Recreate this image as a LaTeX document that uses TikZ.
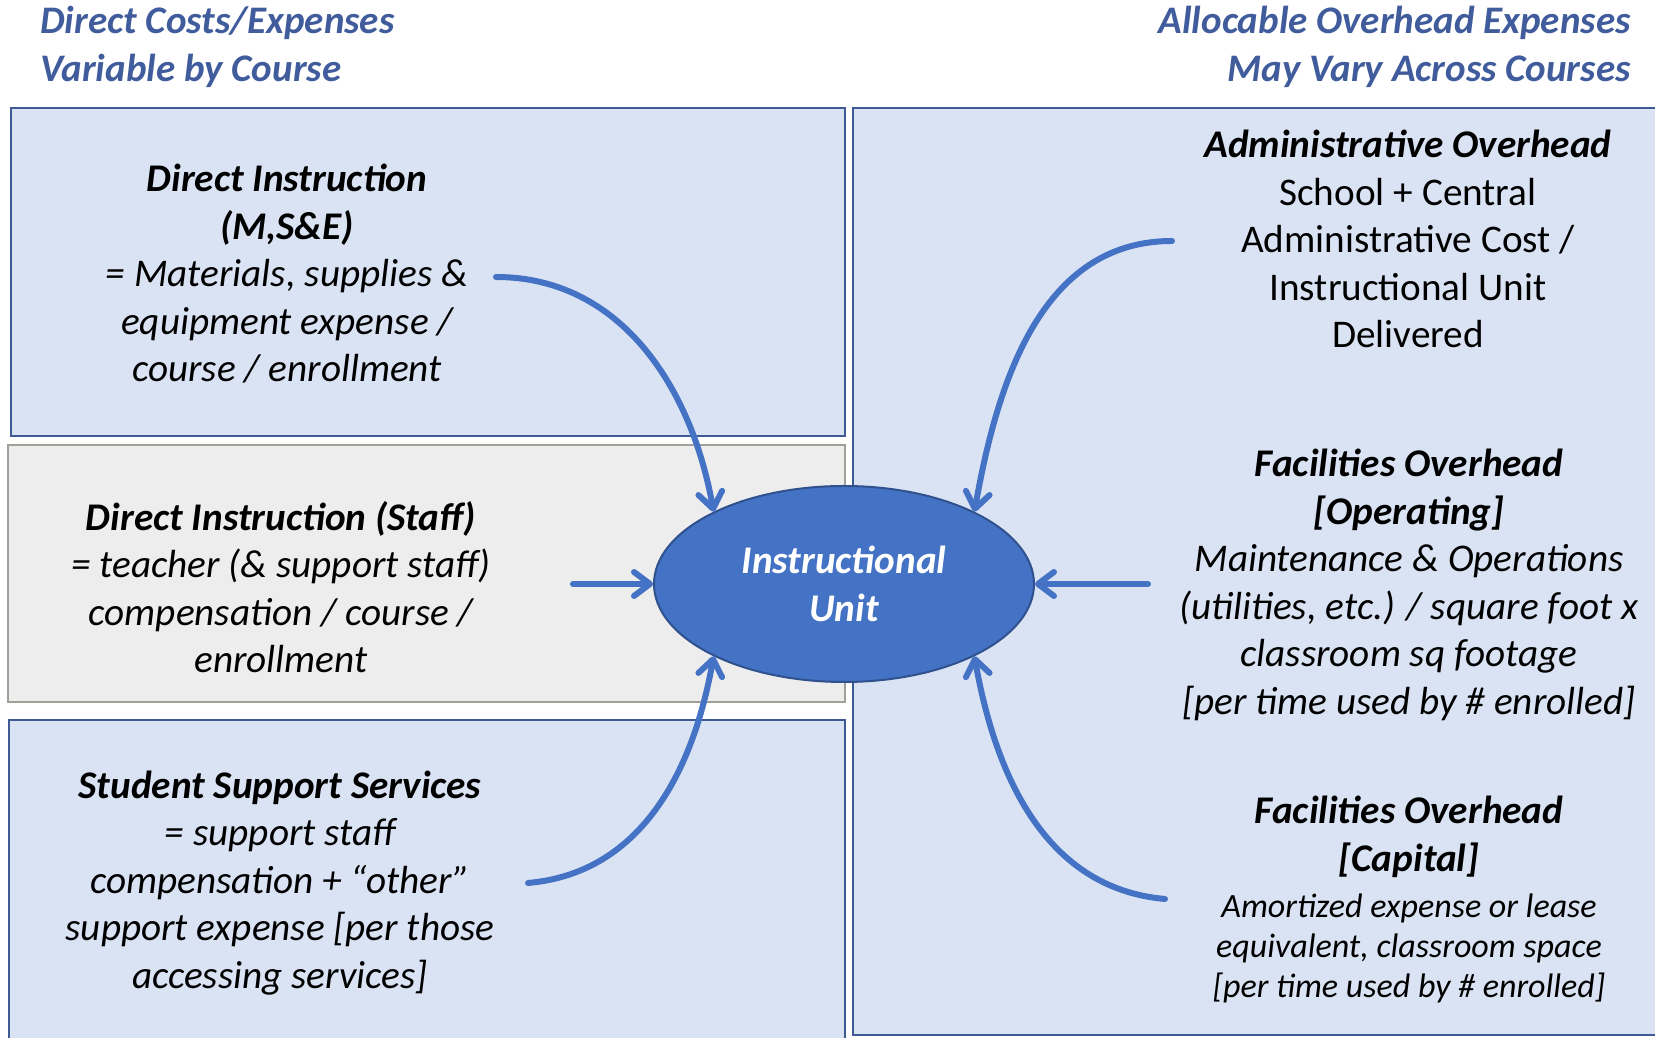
\documentclass[tikz,border=0pt]{standalone}
\usepackage{fontspec}
\setmainfont{Carlito}
\usetikzlibrary{arrows.meta,shapes.geometric,positioning}
\definecolor{boxblue}{HTML}{DAE3F3}
\definecolor{boxedge}{HTML}{3E5A94}
\definecolor{boxgray}{HTML}{EDEDED}
\definecolor{grayedge}{HTML}{A0A098}
\definecolor{unitblue}{HTML}{4472C4}
\definecolor{unitedge}{HTML}{2F528F}
\definecolor{headblue}{HTML}{405C9C}
\begin{document}
\begin{tikzpicture}[x=0.5pt,y=0.5pt,
  panel/.style={draw=boxedge,line width=1pt,fill=boxblue},
  txt/.style={align=center,inner sep=0pt,font=\fontsize{19.6}{23.75}\selectfont\itshape},
  head/.style={inner sep=0pt,font=\fontsize{19.5}{23.75}\selectfont\bfseries\itshape,text=headblue},
  flow/.style={draw=unitblue,line width=3pt,line cap=round,-{Straight Barb[length=8pt,width=12pt,round]}}]
\useasboundingbox (0,0) rectangle (1655,1038);
\fill[white] (0,0) rectangle (1655,1038);

\draw[panel] (11,602) rectangle (845,930);
\draw[draw=grayedge,line width=1pt,fill=boxgray] (8,336) rectangle (845,593);
\draw[panel] (9,-10) rectangle (845,318);
\draw[panel] (853,3) rectangle (1670,930);

\node[head,align=left,anchor=west] (lefthead) at (40,991) {Direct Costs/Expenses\\Variable by Course};
\node[head,align=right,anchor=east] (righthead) at (1631,991) {Allocable Overhead Expenses\\May Vary Across Courses};

\node[txt] (mse) at (287,764) {\textbf{Direct Instruction}\\\textbf{(M,S\&E)}\\= Materials, supplies \&\\equipment expense /\\course / enrollment};
\node[txt] (staff) at (281,451) {\textbf{Direct Instruction (Staff)}\\= teacher (\& support staff)\\compensation / course /\\enrollment};
\node[txt] (support) at (280,155) {\textbf{Student Support Services}\\= support staff\\compensation + “other”\\support expense [per those\\accessing services]};

\node[txt,font=\fontsize{19.6}{23.75}\selectfont] (admin) at (1408,799) {\textbf{\textit{Administrative Overhead}}\\School + Central\\Administrative Cost /\\Instructional Unit\\Delivered};
\node[txt] (operating) at (1409,453) {\textbf{Facilities Overhead}\\\textbf{[Operating]}\\Maintenance \& Operations\\(utilities, etc.) / square foot x\\classroom sq footage\\{[per time used by \# enrolled]}};
\node[txt] (capital) at (1409,201) {\textbf{Facilities Overhead}\\\textbf{[Capital]}};
\node[txt,font=\fontsize{17}{20}\selectfont\itshape,below=8pt of capital] (capitalnote) {Amortized expense or lease\\equivalent, classroom space\\{[per time used by \# enrolled]}};

\node[ellipse,draw=unitedge,line width=1pt,fill=unitblue,minimum width=190pt,minimum height=98pt,inner sep=0pt,
  align=center,text=white,font=\fontsize{19.6}{24}\selectfont\bfseries\itshape] (unit) at (844,454) {Instructional\\Unit};

\coordinate (s1) at (496,761);
\coordinate (s2) at (573,454);
\coordinate (s3) at (528,155);
\coordinate (s4) at (1172,797);
\coordinate (s5) at (1148,454);
\coordinate (s6) at (1165,139);

\draw[flow] (s1) to[out=0,in=100] (unit.151);
\draw[flow] (s2) -- (unit.west);
\draw[flow] (s3) to[out=5,in=-100] (unit.209);
\draw[flow] (s4) to[out=180,in=80] (unit.29);
\draw[flow] (s5) -- (unit.east);
\draw[flow] (s6) to[out=175,in=-80] (unit.-29);

\end{tikzpicture}
\end{document}
